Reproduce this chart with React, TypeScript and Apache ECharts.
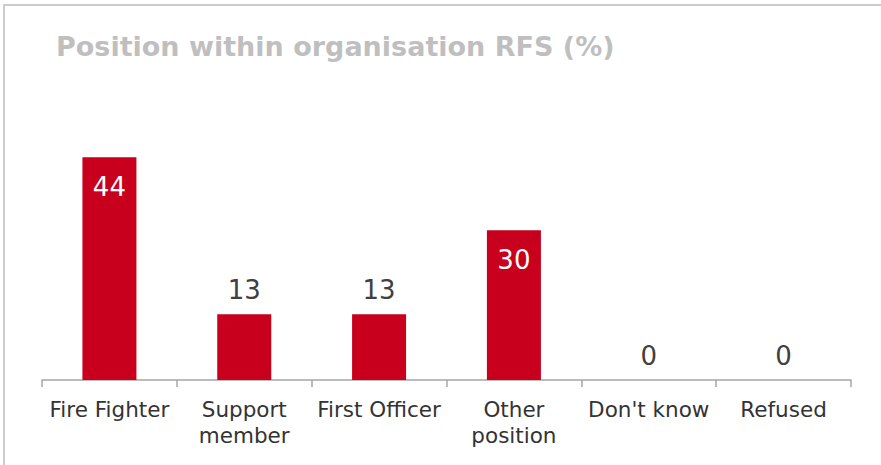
import React, { useEffect, useRef } from "react";
import * as echarts from "echarts";

const categories = ["Fire Fighter", "Support\nmember", "First Officer", "Other\nposition", "Don't know", "Refused"];
const values = [44, 13, 13, 29.6, 0, 0];
const insideLabel = [true, false, false, true, false, false];
const titleText = "Position within organisation RFS (%)";

export default function App() {
  const ref = useRef<HTMLDivElement>(null);
  useEffect(() => {
    document.body.style.margin = "0";
    const chart = echarts.init(ref.current!, null, { renderer: "svg" });
    const font = "'DejaVu Sans', Verdana, sans-serif";
    chart.setOption({
      animation: false,
      backgroundColor: "#ffffff",
      title: {
        text: titleText,
        left: 51,
        top: 28,
        textStyle: { fontFamily: font, fontSize: 27, fontWeight: "bold", color: "#bfbfbf" },
      },
      graphic: [
        {
          type: "rect",
          shape: { x: 4, y: 5, width: 1200, height: 1200 },
          style: { fill: "none", stroke: "#cccccc", lineWidth: 2 },
          silent: true,
        },
      ],
      grid: { left: 42, right: 30, top: 127, bottom: 85, containLabel: false },
      xAxis: {
        type: "category",
        data: categories,
        axisLine: { lineStyle: { color: "#a6a6a6", width: 1.5 } },
        axisTick: { show: true, length: 7, lineStyle: { color: "#a6a6a6", width: 1.5 } },
        axisLabel: {
          fontFamily: font,
          fontSize: 21.5,
          color: "#333333",
          lineHeight: 26,
          margin: 16,
          interval: 0,
        },
      },
      yAxis: { type: "value", min: 0, max: 50, show: false, splitLine: { show: false } },
      series: [
        {
          type: "bar",
          barWidth: 54,
          data: values.map((v, i) => ({
            value: v,
            label: insideLabel[i]
              ? { show: true, position: "insideTop", distance: 17, color: "#ffffff" }
              : { show: true, position: "top", distance: 11, color: "#404040" },
          })),
          itemStyle: { color: "#c8001e" },
          label: {
            fontFamily: font,
            fontSize: 26,
            formatter: (p: any) => String(Math.round(p.value)),
          },
        },
      ],
    });
    return () => chart.dispose();
  }, []);
  return <div ref={ref} style={{ width: 881, height: 465 }} />;
}
